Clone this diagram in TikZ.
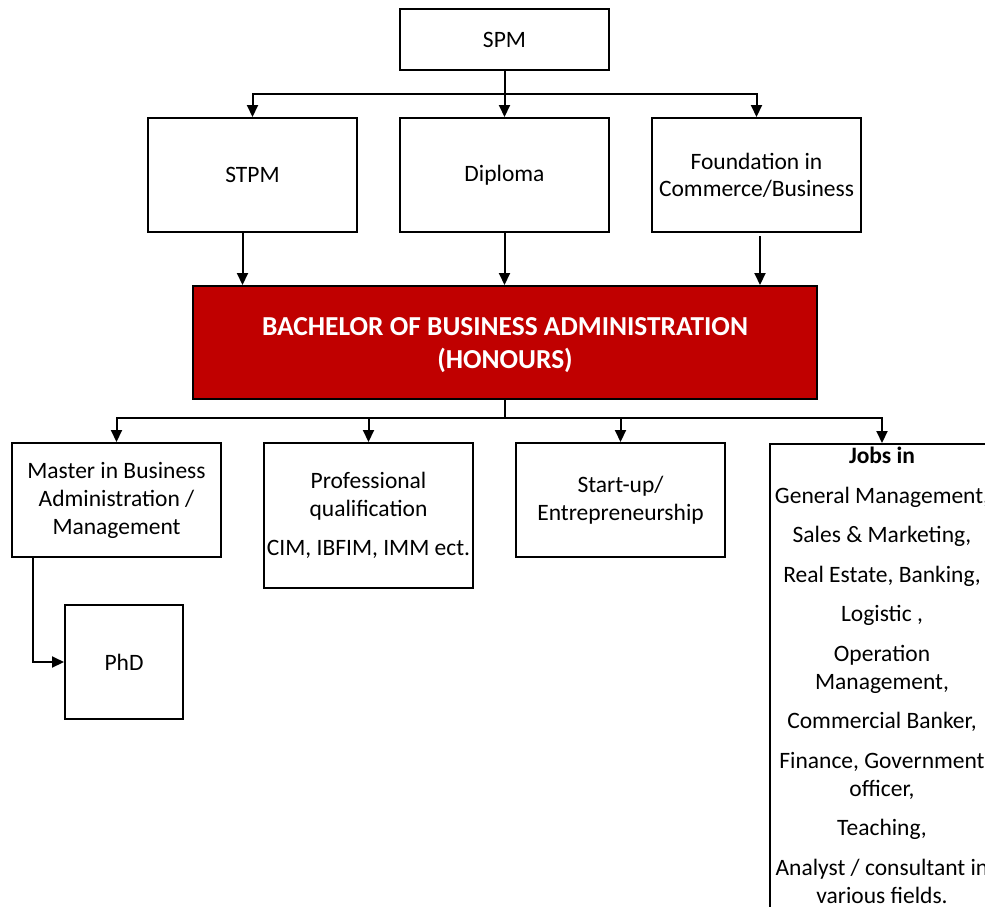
\documentclass[tikz,border=0pt]{standalone}
\usepackage{fontspec}
\setmainfont{Carlito}
\usetikzlibrary{arrows.meta,positioning}
\definecolor{bbared}{HTML}{C00000}
\begin{document}
\begin{tikzpicture}[x=1pt,y=-1pt,
  every node/.style={font=\fontsize{23.5}{28}\selectfont, inner sep=0pt},
  box/.style={draw=black, line width=2pt, align=center},
  arr/.style={line width=2pt, -{Triangle[length=12pt,width=11pt]}},
  link/.style={line width=2pt}]
\useasboundingbox (0,0) rectangle (985,906);
\clip (0,0) rectangle (985,906);

% entry level
\node[box, minimum width=209pt, minimum height=61pt] (spm) at (504.5,39.5) {SPM};
\node[box, minimum width=209pt, minimum height=114pt] (stpm) at (252.5,175) {STPM};
\node[box, minimum width=209pt, minimum height=114pt] (dip) at (504.5,175) {Diploma};
\node[box, minimum width=209pt, minimum height=114pt] (fnd) at (756.5,175) {Foundation in\\[-1pt]Commerce/Business};

% degree
\node[box, fill=bbared, minimum width=624pt, minimum height=113pt] (bba) at (505,342.5) {};
\node[align=center, text=white, font=\fontsize{27.4}{33}\selectfont\bfseries] (bbatext) at (505,345.5)
      {BACHELOR OF BUSINESS ADMINISTRATION\\(HONOURS)};

% pathways
\node[box, minimum width=209pt, minimum height=114pt] (mba) at (116.5,500) {Master in Business\\Administration /\\Management};
\node[box, minimum width=209pt, minimum height=145pt] (prof) at (368.5,515.5) {Professional\\qualification\\[11pt]CIM, IBFIM, IMM ect.};
\node[box, minimum width=209pt, minimum height=114pt] (start) at (620.5,500) {Start-up/\\Entrepreneurship};
\node[box, minimum width=118pt, minimum height=114pt] (phd) at (124,662) {PhD};
\node[box, anchor=north west, minimum width=226pt, minimum height=500pt] (jobs) at (769,443) {};
\node[anchor=north, align=center] (jobstext) at (882,447)
  {\textbf{Jobs in}\\[11.5pt]
   General Management,\\[11.5pt]
   Sales \& Marketing,\\[11.5pt]
   Real Estate, Banking,\\[11.5pt]
   Logistic ,\\[11.5pt]
   Operation\\Management,\\[11.5pt]
   Commercial Banker,\\[11.5pt]
   Finance, Government\\officer,\\[11.5pt]
   Teaching,\\[11.5pt]
   Analyst / consultant in\\various fields.};

% connectors from SPM
\coordinate (top) at (504.5,94);
\draw[link] (spm.south) -- (top);
\draw[arr] (top) -| (stpm.north);
\draw[arr] (top) -- (dip.north);
\draw[arr] (top) -| (fnd.north);

% connectors into the degree
\draw[arr] ([xshift=-10pt,yshift=2pt]stpm.south) -- ([xshift=-10pt]stpm.south |- bba.north);
\draw[arr] (dip.south) -- (dip.south |- bba.north);
\draw[arr] ([xshift=3.5pt,yshift=-3pt]fnd.south) -- ([xshift=3.5pt]fnd.south |- bba.north);

% connectors from the degree
\coordinate (mid) at (504.5,418);
\draw[link] (bba.south -| mid) -- (mid);
\draw[arr] (mid) -| (mba.north);
\draw[arr] (mid) -| (prof.north);
\draw[arr] (mid) -| (start.north);
\draw[arr] (mid) -| (jobs.north -| jobstext.north);

% master to PhD
\draw[arr] ([xshift=-84pt]mba.south) |- (phd.west);
\end{tikzpicture}
\end{document}
